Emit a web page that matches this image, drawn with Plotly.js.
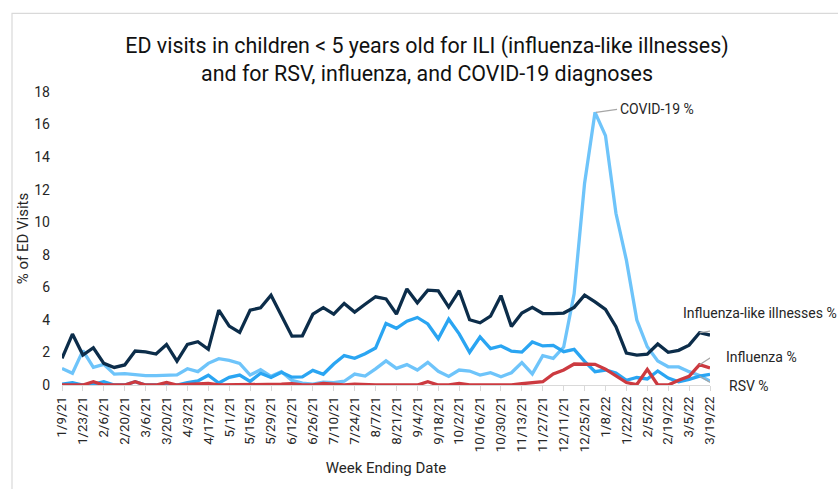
<!DOCTYPE html>
<html>
<head>
<meta charset="utf-8">
<script src="https://cdn.plot.ly/plotly-3.0.1.min.js"></script>
<style>html,body{margin:0;padding:0;background:#fff;}#chart{width:838px;height:489px;}</style>
</head>
<body>
<div id="chart"></div>
<script>
const weeks = ["1/9/21","1/16/21","1/23/21","1/30/21","2/6/21","2/13/21","2/20/21","2/27/21","3/6/21","3/13/21","3/20/21","3/27/21","4/3/21","4/10/21","4/17/21","4/24/21","5/1/21","5/8/21","5/15/21","5/22/21","5/29/21","6/5/21","6/12/21","6/19/21","6/26/21","7/3/21","7/10/21","7/17/21","7/24/21","7/31/21","8/7/21","8/14/21","8/21/21","8/28/21","9/4/21","9/11/21","9/18/21","9/25/21","10/2/21","10/9/21","10/16/21","10/23/21","10/30/21","11/6/21","11/13/21","11/20/21","11/27/21","12/4/21","12/11/21","12/18/21","12/25/21","1/1/22","1/8/22","1/15/22","1/22/22","1/29/22","2/5/22","2/12/22","2/19/22","2/26/22","3/5/22","3/12/22","3/19/22"];

const tickLabels = ["1/9/21","1/23/21","2/6/21","2/20/21","3/6/21","3/20/21","4/3/21","4/17/21","5/1/21","5/15/21","5/29/21","6/12/21","6/26/21","7/10/21","7/24/21","8/7/21","8/21/21","9/4/21","9/18/21","10/2/21","10/16/21","10/30/21","11/13/21","11/27/21","12/11/21","12/25/21","1/8/22","1/22/22","2/5/22","2/19/22","3/5/22","3/19/22"];

const ili = [1.64,3.13,1.84,2.29,1.33,1.08,1.23,2.09,2.04,1.90,2.49,1.47,2.49,2.66,2.19,4.60,3.62,3.23,4.60,4.74,5.52,4.26,3.00,3.02,4.35,4.75,4.35,5.01,4.48,4.96,5.42,5.29,4.36,5.90,5.05,5.83,5.79,4.79,5.79,4.01,3.82,4.23,5.49,3.60,4.42,4.77,4.39,4.39,4.42,4.77,5.52,5.11,4.64,3.58,1.96,1.84,1.89,2.52,2.01,2.13,2.45,3.21,3.07];

const covid = [1.02,0.72,2.11,1.08,1.27,0.67,0.70,0.63,0.57,0.58,0.61,0.62,1.00,0.82,1.33,1.62,1.51,1.33,0.61,0.94,0.53,0.82,0.28,0.12,0.06,0.18,0.15,0.23,0.67,0.55,0.99,1.48,1.02,1.25,0.92,1.39,0.84,0.53,0.92,0.86,0.61,0.76,0.51,0.75,1.38,0.68,1.80,1.64,2.33,5.60,12.40,16.75,15.32,10.55,7.67,3.99,2.35,1.48,1.12,1.11,0.82,0.58,0.24];

const rsv = [0.05,0.15,0.00,0.05,0.20,0.00,0.00,0.20,0.00,0.00,0.05,0.00,0.15,0.25,0.60,0.12,0.47,0.61,0.22,0.72,0.46,0.78,0.48,0.50,0.90,0.66,1.29,1.81,1.64,1.92,2.27,3.78,3.48,3.92,4.15,3.75,2.84,4.04,3.14,2.01,2.95,2.24,2.40,2.08,2.02,2.64,2.40,2.43,2.05,2.19,1.45,0.82,0.92,0.74,0.29,0.46,0.37,0.86,0.43,0.20,0.35,0.54,0.65];

const flu = [0.00,0.00,0.00,0.20,0.00,0.00,0.00,0.20,0.00,0.00,0.15,0.00,0.03,0.10,0.10,0.00,0.00,0.00,0.00,0.00,0.00,0.05,0.08,0.00,0.00,0.10,0.05,0.00,0.05,0.00,0.00,0.00,0.00,0.00,0.00,0.20,0.00,0.00,0.10,0.00,0.00,0.00,0.00,0.00,0.08,0.15,0.20,0.68,0.92,1.29,1.27,1.27,0.97,0.56,0.15,0.03,0.96,0.00,0.00,0.29,0.53,1.25,1.05];

const seriesNames = ["Influenza-like illnesses %","COVID-19 %","RSV %","Influenza %"];
const colors = ["#0c2d4a","#6ec4fa","#2aa5f2","#cc3a40"];

const idx = weeks.map((w,i)=>i);
const tickIdx = tickLabels.map(t => weeks.indexOf(t));

function tr(y, c, name){
  return {x: idx, y: y, type:'scatter', mode:'lines', name: name,
          line:{color:c, width:3.3}, hoverinfo:'skip'};
}

const data = [
  tr(covid, colors[1], seriesNames[1]),
  tr(rsv, colors[2], seriesNames[2]),
  tr(flu, colors[3], seriesNames[3]),
  tr(ili, colors[0], seriesNames[0])
];

const last = weeks.length - 1;
const peakI = covid.indexOf(Math.max(...covid));
const lblI = last - 1;
const font = "Roboto, 'Noto Sans', Arial, sans-serif";
const gray = "#a6a6a6";

const shapes = [
  {type:'rect', xref:'paper', yref:'paper', x0:(12-62)/648, x1:(860-62)/648, y0:(385-500)/293.3, y1:(385-13)/293.3,
   line:{color:'#d9d9d9', width:1.2}, fillcolor:'rgba(0,0,0,0)', layer:'below'},
  {type:'path', xref:'x', yref:'y', xsizemode:'pixel', ysizemode:'pixel', xanchor:peakI, yanchor:covid[peakI],
   path:'M1,0 L22,3', line:{color:gray, width:1.2}},
  {type:'path', xref:'x', yref:'y', xsizemode:'pixel', ysizemode:'pixel', xanchor:lblI, yanchor:ili[lblI],
   path:'M0,0 L61,9', line:{color:gray, width:1.2}},
  {type:'path', xref:'x', yref:'y', xsizemode:'pixel', ysizemode:'pixel', xanchor:lblI, yanchor:flu[lblI],
   path:'M0,0 L14,9 L24,9', line:{color:gray, width:1.2}},
  {type:'path', xref:'x', yref:'y', xsizemode:'pixel', ysizemode:'pixel', xanchor:lblI, yanchor:rsv[lblI],
   path:'M0,0 L12,-7 L23,-9', line:{color:gray, width:1.2}}
];

const annFont = {family:font, size:14, color:'#262626'};
const annotations = [
  {x:peakI, y:covid[peakI], xref:'x', yref:'y', text:seriesNames[1], showarrow:false,
   xanchor:'left', yanchor:'middle', xshift:23, yshift:3, font:annFont},
  {x:lblI, y:ili[lblI], xref:'x', yref:'y', text:seriesNames[0], showarrow:false,
   xanchor:'left', yanchor:'middle', xshift:-19, yshift:20, font:annFont},
  {x:lblI, y:flu[lblI], xref:'x', yref:'y', text:seriesNames[3], showarrow:false,
   xanchor:'left', yanchor:'middle', xshift:24, yshift:8, font:annFont},
  {x:lblI, y:rsv[lblI], xref:'x', yref:'y', text:seriesNames[2], showarrow:false,
   xanchor:'left', yanchor:'middle', xshift:27, yshift:-10, font:annFont}
];

const layout = {
  width:838, height:489,
  margin:{l:62, r:128, t:92, b:104, pad:0},
  paper_bgcolor:'#ffffff', plot_bgcolor:'#ffffff',
  showlegend:false,
  font:{family:font, color:'#262626'},
  title:{text:'ED visits in children < 5 years old for ILI (influenza-like illnesses)<br>and for RSV, influenza, and COVID-19 diagnoses',
         font:{family:font, size:21.4, color:'#111111'}, xref:'container', x:427/838, xanchor:'center',
         yref:'container', y:1-53/489, yanchor:'middle'},
  xaxis:{range:[0, last], tickmode:'array', tickvals:tickIdx, ticktext:tickLabels,
         tickangle:-90, ticks:'outside', ticklen:5, tickcolor:'#d9d9d9', tickwidth:1,
         showline:true, linecolor:'#d9d9d9', linewidth:1.2, showgrid:false, zeroline:false,
         tickfont:{family:font, size:13.3, color:'#262626'},
         title:{text:'Week Ending Date', font:{family:font, size:15, color:'#262626'}, standoff:11}},
  yaxis:{range:[0,18], dtick:2, tick0:0, showgrid:false, zeroline:false, showline:false,
         ticks:'', ticklabelstandoff:11,
         tickfont:{family:font, size:14, color:'#262626'},
         title:{text:'% of ED Visits', font:{family:font, size:15, color:'#262626'}, standoff:2}},
  shapes:shapes,
  annotations:annotations
};

Plotly.newPlot('chart', data, layout, {displayModeBar:false, staticPlot:true});
</script>
</body>
</html>
